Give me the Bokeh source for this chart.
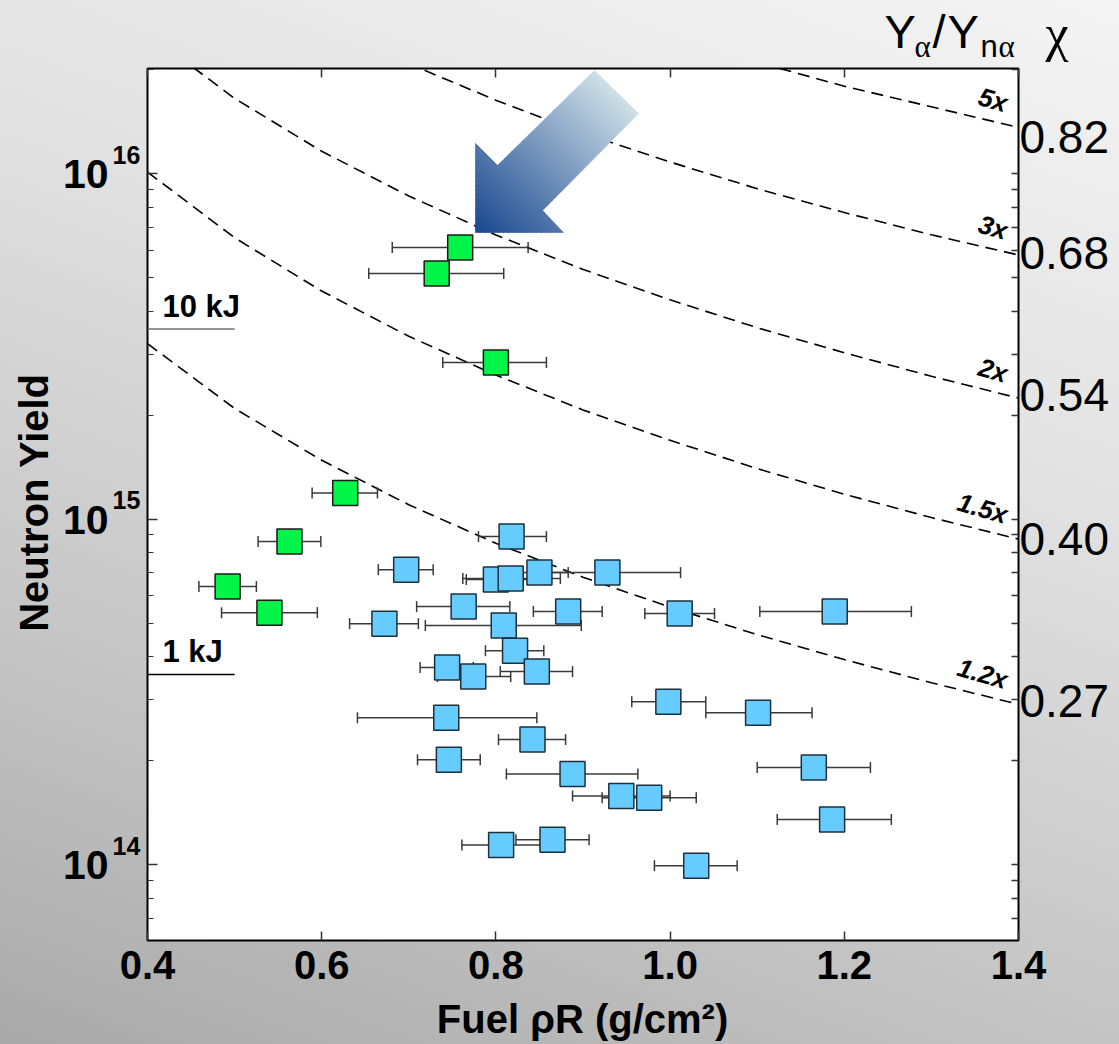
import math
from bokeh.plotting import figure
from bokeh.models import (ColumnDataSource, FixedTicker, LogAxis, LinearAxis, Label, Range1d, GridBox,
                          PrintfTickFormatter, CustomJSTickFormatter)
from bokeh.embed import file_html
from bokeh.resources import INLINE

# ---------------- data ----------------
x_ticks = [0.4, 0.6, 0.8, 1.0, 1.2, 1.4]
y_major = [1e14, 1e15, 1e16]
y_major_exp = ["14", "15", "16"]
y_minor = [m * 10.0 ** d for d in (13, 14, 15, 16) for m in range(2, 10)]

green_rho = [0.759, 0.732, 0.800, 0.627, 0.563, 0.492, 0.540]
green_lo = [0.681, 0.654, 0.739, 0.589, 0.527, 0.459, 0.485]
green_hi = [0.837, 0.809, 0.858, 0.664, 0.599, 0.525, 0.595]
green_yield = [6.11e15, 5.14e15, 2.84e15, 1.19e15, 8.61e14, 6.38e14, 5.36e14]

blue_rho = [0.818, 0.697, 0.800, 0.817, 0.850, 0.928, 0.763, 0.883, 1.011, 1.189,
            0.672, 0.809, 0.822, 0.744, 0.774, 0.847, 0.743, 0.998, 1.101, 0.842,
            0.746, 1.165, 0.888, 0.944, 0.976, 1.186, 0.806, 0.865, 1.030]
blue_lo = [0.780, 0.665, 0.766, 0.762, 0.819, 0.840, 0.709, 0.843, 0.971, 1.103,
           0.632, 0.719, 0.788, 0.713, 0.733, 0.805, 0.641, 0.956, 1.041, 0.803,
           0.710, 1.100, 0.812, 0.888, 0.922, 1.123, 0.761, 0.823, 0.982]
blue_hi = [0.858, 0.728, 0.857, 0.874, 0.883, 1.012, 0.816, 0.922, 1.051, 1.277,
           0.711, 0.898, 0.855, 0.774, 0.817, 0.888, 0.847, 1.041, 1.163, 0.880,
           0.782, 1.230, 0.963, 1.000, 1.030, 1.254, 0.851, 0.907, 1.077]
blue_yield = [8.90e14, 7.14e14, 6.68e14, 6.73e14, 7.00e14, 7.00e14, 5.58e14, 5.40e14, 5.33e14, 5.40e14,
              4.98e14, 4.92e14, 4.16e14, 3.72e14, 3.50e14, 3.62e14, 2.66e14, 2.96e14, 2.75e14, 2.30e14,
              2.01e14, 1.91e14, 1.83e14, 1.58e14, 1.56e14, 1.35e14, 1.14e14, 1.18e14, 9.93e13]

# dashed iso-curves (ratio to baseline yield)
curve_names = ["1.2x", "1.5x", "2x", "3x", "5x"]
chi_labels = ["0.27", "0.40", "0.54", "0.68", "0.82"]
rho_full = [0.4, 0.5, 0.6, 0.7, 0.8, 0.9, 1.0, 1.1, 1.2, 1.3, 1.4]
curve_1p2 = [3.22e15, 2.09e15, 1.48e15, 1.10e15, 8.51e14, 6.79e14, 5.56e14, 4.63e14, 3.92e14, 3.36e14, 2.91e14]
curve_1p5 = [1.01e16, 6.52e15, 4.57e15, 3.38e15, 2.61e15, 2.07e15, 1.69e15, 1.40e15, 1.18e15, 1.01e15, 8.75e14]
curve_2 = [2.55e16, 1.65e16, 1.16e16, 8.61e15, 6.64e15, 5.28e15, 4.31e15, 3.58e15, 3.03e15, 2.59e15, 2.24e15]
rho_3 = [0.6, 0.7, 0.8, 0.9, 1.0, 1.1, 1.2, 1.3, 1.4]
curve_3 = [2.76e16, 2.08e16, 1.63e16, 1.31e16, 1.08e16, 9.04e15, 7.71e15, 6.65e15, 5.81e15]
rho_5 = [1.0, 1.1, 1.2, 1.3, 1.4]
curve_5 = [2.49e16, 2.10e16, 1.79e16, 1.56e16, 1.36e16]

energy_labels = ["1 kJ", "10 kJ"]
energy_yield = [3.55e14, 3.55e15]
energy_rho = [0.4, 0.5]

# ---------------- layout helpers (page pixels of the frame) ----------------
W, H = 1119, 1044
FL, FR, FT, FB = 147, 1018, 68, 940
X0, X1 = 0.4, 1.4
Y0, Y1 = 6.03e13, 2.014e16
L0, L1 = math.log10(Y0), math.log10(Y1)


def dx(px):
    return X0 + (px - FL) / (FR - FL) * (X1 - X0)


def dy(py):
    return 10 ** (L1 - (py - FT) / (FB - FT) * (L1 - L0))


def py_of(v):
    return FT + (L1 - math.log10(v)) / (L1 - L0) * (FB - FT)


FONT = "Liberation Sans"
GRAD = "linear-gradient(200deg, #f4f4f4 0%, #e2e2e2 35%, #c6c6c6 70%, #a9a9a9 100%)"

# ---------------- background figure: carries the texts outside the plot box ----------------
bg = figure(frame_width=W, frame_height=H, x_range=Range1d(dx(0), dx(W)), y_range=Range1d(dy(H), dy(0)),
            y_axis_type="log", x_axis_location=None, y_axis_location=None,
            output_backend="svg", toolbar_location=None, min_border=0)
bg.title.visible = False
bg.xgrid.visible = False
bg.ygrid.visible = False
bg.outline_line_color = None
bg.background_fill_color = None
bg.border_fill_color = None
try:
    from bokeh.models import GlobalInlineStyleSheet
    bg.stylesheets = [GlobalInlineStyleSheet(css="html { min-height: 100%; background: " + GRAD +
                                             "; }\nbody { background: transparent; }")]
except Exception:
    bg.styles = {"background": GRAD}

# ---------------- main figure ----------------
p = figure(frame_width=FR - FL, frame_height=FB - FT, x_range=(X0, X1), y_range=(Y0, Y1),
           y_axis_type="log", output_backend="svg", toolbar_location=None,
           min_border_left=FL, min_border_right=W - FR, min_border_top=FT,
           min_border_bottom=H - FB)
p.title.visible = False
p.xgrid.visible = False
p.ygrid.visible = False
p.background_fill_color = "white"
p.border_fill_color = None
p.outline_line_color = "black"
p.outline_line_width = 2

for fig in (bg, p):
    try:
        fig.frame_align = False
    except Exception:
        pass

blank = CustomJSTickFormatter(code="return '';")

# bottom axis
xa = p.xaxis[0]
xa.ticker = FixedTicker(ticks=x_ticks)
xa.formatter = PrintfTickFormatter(format="%.1f")
xa.major_label_text_font = FONT
xa.major_label_text_font_style = "bold"
xa.major_label_text_font_size = "40px"
xa.major_label_text_color = "black"
xa.major_label_standoff = 10
xa.major_tick_in = 9
xa.major_tick_out = 0
xa.major_tick_line_width = 1.5
xa.major_tick_line_color = "#333333"
xa.minor_tick_line_color = None
xa.axis_line_color = None

top = LinearAxis(ticker=FixedTicker(ticks=x_ticks), formatter=blank, major_tick_in=9, major_tick_out=0,
                 major_tick_line_width=1.5, major_tick_line_color="#333333",
                 minor_tick_line_color=None, axis_line_color=None, major_label_standoff=0)
p.add_layout(top, "above")

# left axis (its labels are drawn on the background figure)
ya = p.yaxis[0]
ya.ticker = FixedTicker(ticks=y_major, minor_ticks=y_minor)
ya.formatter = blank
ya.major_tick_in = 10
ya.major_tick_out = 0
ya.minor_tick_in = 6
ya.minor_tick_out = 0
ya.major_tick_line_width = 1.5
ya.minor_tick_line_width = 1.2
ya.major_tick_line_color = "#333333"
ya.minor_tick_line_color = "#333333"
ya.axis_line_color = None
ya.major_label_standoff = 0

# right axis: log ticks + chi labels at the ends of the dashed curves
curves = [(rho_full, curve_1p2), (rho_full, curve_1p5), (rho_full, curve_2), (rho_3, curve_3), (rho_5, curve_5)]
chi_off = [-3, 0, -3, -2, 10]
chi_vals = [dy(py_of(ys[-1]) + off) for (xs, ys), off in zip(curves, chi_off)]
chi_fmt = CustomJSTickFormatter(args=dict(vals=chi_vals, labs=chi_labels), code="""
for (let i = 0; i < vals.length; i++) {
  if (Math.abs(Math.log10(tick) - Math.log10(vals[i])) < 1e-6) { return labs[i]; }
}
return '';
""")
right = LogAxis(ticker=FixedTicker(ticks=chi_vals, minor_ticks=y_major + y_minor), formatter=chi_fmt)
right.major_tick_in = 0
right.major_tick_out = 0
right.minor_tick_in = 7
right.minor_tick_out = 0
right.minor_tick_line_width = 1.3
right.minor_tick_line_color = "#333333"
right.axis_line_color = None
right.major_label_standoff = 1
right.major_label_text_font = FONT
right.major_label_text_font_size = "46px"
right.major_label_text_font_style = "normal"
right.major_label_text_color = "black"
p.add_layout(right, "right")

# dashed curves
for xs, ys in curves:
    p.line(xs, ys, line_color="black", line_width=1.6, line_dash="12 7")

# energy reference lines
p.segment(x0=[energy_rho[0]] * 2, y0=energy_yield, x1=[energy_rho[1]] * 2, y1=energy_yield,
          line_color=["black", "#707070"], line_width=1.6)

# gradient arrow (decoration), page pixels
arrow_px = [(475, 232), (475, 143), (497, 165), (594, 70), (638, 113), (542, 210), (563, 232)]


def tval(pt):
    return ((pt[0] - 475) - (pt[1] - 232)) / math.sqrt(2)


def clip(poly, sign, c):
    out = []
    n = len(poly)
    for i in range(n):
        P, Q = poly[i], poly[(i + 1) % n]
        fp = sign * tval(P) - c
        fq = sign * tval(Q) - c
        if fp <= 0:
            out.append(P)
        if fp * fq < 0:
            s = fp / (fp - fq)
            out.append((P[0] + s * (Q[0] - P[0]), P[1] + s * (Q[1] - P[1])))
    return out


tmax = max(tval(q) for q in arrow_px)
N = 60
c0 = (24, 70, 142)
c1 = (206, 223, 231)
axs, ays, acol = [], [], []
for i in range(N):
    t0 = tmax * i / N - 0.3
    t1 = tmax * (i + 1) / N + 0.3
    poly = clip(arrow_px, -1, -t0)
    poly = clip(poly, 1, t1)
    if len(poly) < 3:
        continue
    f = (i + 0.5) / N
    col = "#%02x%02x%02x" % tuple(int(round(c0[k] + f * (c1[k] - c0[k]))) for k in range(3))
    axs.append([dx(q[0]) for q in poly])
    ays.append([dy(q[1]) for q in poly])
    acol.append(col)
p.patches(axs, ays, fill_color=acol, line_color=acol, line_width=0.6)

# error bars and squares
for rho, lo, hi, yv, fill, edge in [(blue_rho, blue_lo, blue_hi, blue_yield, "#66ccff", "#1c2f3d"),
                                     (green_rho, green_lo, green_hi, green_yield, "#00f548", "#1a1a1a")]:
    src = ColumnDataSource(dict(x=rho, lo=lo, hi=hi, y=yv))
    p.segment(x0="lo", y0="y", x1="hi", y1="y", source=src, line_color="#3a3a3a", line_width=1.5)
    p.scatter(x="lo", y="y", source=src, marker="dash", angle=math.pi / 2, size=11,
              line_color="#3a3a3a", line_width=1.5)
    p.scatter(x="hi", y="y", source=src, marker="dash", angle=math.pi / 2, size=11,
              line_color="#3a3a3a", line_width=1.5)
    p.scatter(x="x", y="y", source=src, marker="square", size=25, fill_color=fill,
              line_color=edge, line_width=1.5)

MID = 0.3465  # distance (in em) from the text's vertical middle to its alphabetic baseline


def lab(fig, px, base_py, text, size, style="normal", align="left", font=FONT, angle=0.0):
    """Place a text whose alphabetic baseline passes through page pixel (px, base_py)."""
    s = float(size.replace("px", ""))
    ux, uy = math.sin(-angle), -math.cos(angle)  # 'up' direction of the text in page pixels
    ax = px + MID * s * ux
    ay = base_py + MID * s * uy
    fig.add_layout(Label(x=dx(ax), y=dy(ay), text=text, text_font=font, text_font_size=size,
                         text_font_style=style, text_align=align, text_baseline="middle",
                         text_color="black", angle=angle))


# texts inside the plot box
for e, t in zip(energy_yield, energy_labels):
    lab(p, 162, py_of(e) - 12, t, "31px", "bold")
for (xs, ys), name in zip(curves, curve_names):
    end_py = py_of(ys[-1])
    lab(p, 1004, end_py - 15, name, "26px", "bold italic", align="right", angle=-0.28)

# texts outside the plot box (background figure spans the whole canvas)
for v, e in zip(y_major, y_major_exp):
    t = py_of(v)
    lab(bg, 108, t + 15, "10", "41px", "bold", align="right")
    lab(bg, 112, t - 10, e, "25px", "bold")
bg.add_layout(Label(x=dx(33), y=dy(502), text="Neutron Yield", text_font=FONT, text_font_size="40px",
                    text_font_style="bold", text_align="center", text_baseline="middle",
                    text_color="black", angle=math.pi / 2))
lab(bg, 582, 1032, "Fuel \u03c1R (g/cm\u00b2)", "40px", "bold", align="center")
lab(bg, 884, 47, "Y", "47px")
lab(bg, 914, 57, "\u03b1", "31px", font="Liberation Serif")
lab(bg, 932, 47, "/", "47px")
lab(bg, 947, 47, "Y", "47px")
lab(bg, 980, 57, "n", "31px")
lab(bg, 998, 57, "\u03b1", "31px", font="Liberation Serif")
lab(bg, 1045, 51, "\u03c7", "52px", font="Liberation Serif")

layout = GridBox(children=[(bg, 0, 0), (p, 0, 0)])
open("out.html", "w").write(file_html(layout, INLINE))
